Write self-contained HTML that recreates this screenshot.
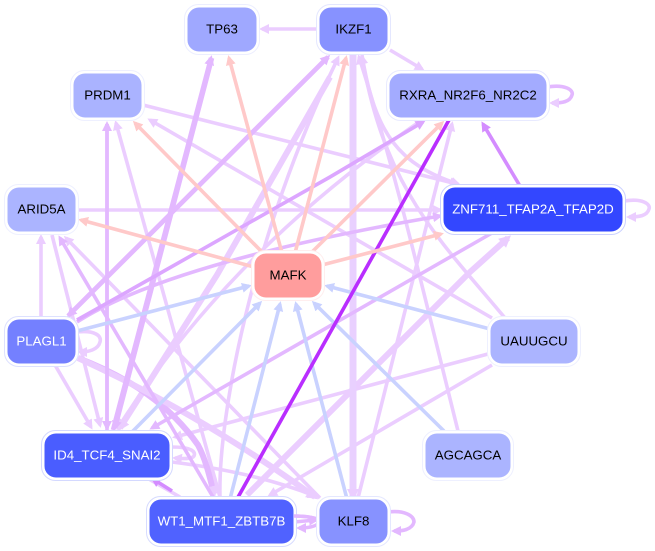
<!DOCTYPE html>
<html><head><meta charset="utf-8"><style>
html,body{margin:0;padding:0;background:#fff}
svg{display:block}
text{font-family:"Liberation Sans",sans-serif;font-size:13.3px;text-anchor:middle;dominant-baseline:central}
.o{fill:#fff;stroke-width:1}
.i{stroke:#fff;stroke-width:1}
</style></head><body>
<svg width="655" height="551" viewBox="0 0 655 551" xmlns="http://www.w3.org/2000/svg">
<defs>
<marker id="ml" markerUnits="userSpaceOnUse" markerWidth="14" markerHeight="12" refX="7" refY="5" orient="auto"><path d="M0 0L10 5L0 10z" fill="#ebcdff"/></marker>
<marker id="mm" markerUnits="userSpaceOnUse" markerWidth="14" markerHeight="12" refX="7" refY="5" orient="auto"><path d="M0 0L10 5L0 10z" fill="#e3b8ff"/></marker>
<marker id="md" markerUnits="userSpaceOnUse" markerWidth="14" markerHeight="12" refX="7" refY="5" orient="auto"><path d="M0 0L10 5L0 10z" fill="#dca6ff"/></marker>
<marker id="mv" markerUnits="userSpaceOnUse" markerWidth="14" markerHeight="12" refX="7" refY="5" orient="auto"><path d="M0 0L10 5L0 10z" fill="#d48cff"/></marker>
<marker id="mb" markerUnits="userSpaceOnUse" markerWidth="14" markerHeight="12" refX="7" refY="5" orient="auto"><path d="M0 0L10 5L0 10z" fill="#c9d2ff"/></marker>
<marker id="mp" markerUnits="userSpaceOnUse" markerWidth="14" markerHeight="12" refX="7" refY="5" orient="auto"><path d="M0 0L10 5L0 10z" fill="#ffc9c9"/></marker>
<marker id="mt" markerUnits="userSpaceOnUse" markerWidth="16" markerHeight="14" refX="8" refY="6" orient="auto"><path d="M0 0L12 6L0 12z" fill="#ebcdff"/></marker>
</defs>

<!-- light purple edges -->
<g fill="none" stroke="#ebcdff" stroke-width="3.6" marker-end="url(#ml)">
<path d="M319 29H262"/>
<path d="M390 50L422 69"/>
<path d="M143 105L457 184"/>
<path d="M77 210H440"/>
<path d="M492 318L150 120"/>
<path d="M41 319V237"/>
<path d="M55 365L91 427"/>
<path d="M220 497L116 123"/>
<path d="M358 498L452 124"/>
<path d="M458 431C418 270 395 170 359 57"/>
<path d="M505 318C440 240 385 190 362 57"/>
<path d="M362 55C375 135 400 165 458 184" />
<path d="M488 354L175 437"/>
<path d="M492 365L270 495"/>
<path d="M147 478L180 497" marker-end="none"/>
<path d="M220 497C218 420 250 240 338 58"/>
<path d="M425 118Q230 250 118 428"/>
<path d="M52 235L100 425"/>
<path d="M320 498L66 238"/>
<path d="M172 462C220 468 270 478 315 496"/>
<path d="M172 447C192 447 196 452 194 456C192 459 185 459 175 458"/>
<path d="M77 332C95 330 102 336 100 342C98 350 88 352 80 352"/>
<path d="M547 87C565 84 574 90 572 95C570 102 562 103 552 103" stroke="#e3b8ff"/>
<path d="M624 201C642 198 651 204 649 209C647 216 639 217 629 217"/>
</g>
<g fill="none" stroke="#ebcdff" stroke-width="6" marker-end="url(#mt)">
<path d="M330 77L217 275L120 428"/>
<path d="M247 495L470 272L508 238"/>
<path d="M78 358C130 378 170 405 198 445C206 460 210 478 214 494" stroke="#e3b8ff"/>
<path d="M78 358C170 400 250 450 315 497"/>
</g>
<path d="M353 54V497" stroke="#e9d0ff" stroke-width="7" fill="none" marker-end="url(#mt)"/>

<!-- medium purple edges -->
<g fill="none" stroke="#e3b8ff" stroke-width="3.6" marker-end="url(#mm)">
<path d="M107 433V124"/>
<path d="M107 124V428"/>
<path d="M492 233L152 428"/>
<path d="M213 497L60 238"/>
<path d="M294 516C306 516 318 518 320 521C318 526 310 528 299 528"/>
<path d="M294 522L316 520"/>
<path d="M388 512C405 510 414 516 414 522C412 530 402 531 394 531"/>
<path d="M77 322Q170 262 440 216"/>
</g>
<g fill="none" stroke="#e3b8ff" stroke-width="4.6" marker-end="url(#mm)">
<path d="M113 430L211 58"/>
<path d="M212 58L115 428"/>
<path d="M68 316L328 57"/>
<path d="M328 57L69 315"/>
</g>
<path d="M77 320L157 275L330 177L423 122" fill="none" stroke="#dca6ff" stroke-width="3.6" marker-end="url(#md)"/>
<path d="M172 491L153 479" fill="none" stroke="#d48cff" stroke-width="3.6" marker-end="url(#mv)"/>
<path d="M520 186L483 124" fill="none" stroke="#d48cff" stroke-width="3.6" marker-end="url(#mv)"/>

<!-- blue edges to MAFK -->
<g fill="none" stroke="#c9d2ff" stroke-width="3.6" marker-end="url(#mb)">
<path d="M77 331L249 286"/>
<path d="M131 433L260 303"/>
<path d="M230 499L280 304"/>
<path d="M347 499L296 304"/>
<path d="M444 431L314 303"/>
<path d="M490 329L327 286"/>
</g>

<!-- bright edge -->
<path d="M237 499L449 120" fill="none" stroke="#b92eff" stroke-width="3.6"/>

<!-- pink edges from MAFK -->
<g fill="none" stroke="#ffc9c9" stroke-width="3.6" marker-end="url(#mp)">
<path d="M282 253L229 58"/>
<path d="M262 252L135 123"/>
<path d="M254 267L81 220"/>
<path d="M295 253L346 58"/>
<path d="M311 253L442 123"/>
<path d="M322 265L441 234"/>
</g>

<!-- nodes -->
<g>
<rect class="o" x="184.500" y="4.500" width="75" height="50" rx="14" stroke="#eceeff"/><rect class="i" x="187" y="7" width="70" height="45" rx="12" fill="#9fa8ff"/>
<text x="222" y="29" fill="#000">TP63</text>

<rect class="o" x="316.500" y="4.500" width="74" height="50" rx="14" stroke="#e4e7ff"/><rect class="i" x="319" y="7" width="69" height="45" rx="12" fill="#8792ff"/>
<text x="353.500" y="29" fill="#000">IKZF1</text>

<rect class="o" x="70.500" y="70.500" width="74" height="50" rx="14" stroke="#eef0ff"/><rect class="i" x="73" y="73" width="69" height="45" rx="12" fill="#aab3ff"/>
<text x="107.500" y="95" fill="#000">PRDM1</text>

<rect class="o" x="386.500" y="70.500" width="163" height="50" rx="14" stroke="#e8eaff"/><rect class="i" x="389" y="73" width="158" height="45" rx="12" fill="#a3abff"/>
<text x="468" y="95" fill="#000">RXRA_NR2F6_NR2C2</text>

<rect class="o" x="4.500" y="184.500" width="74" height="50" rx="14" stroke="#eef0ff"/><rect class="i" x="7" y="187" width="69" height="45" rx="12" fill="#abb4ff"/>
<text x="41.500" y="209" fill="#000">ARID5A</text>

<rect class="o" x="440.500" y="184.500" width="185" height="50" rx="14" stroke="#ccd2ff"/><rect class="i" x="443" y="187" width="180" height="45" rx="12" fill="#3347ff"/>
<text x="533" y="209" fill="#fff">ZNF711_TFAP2A_TFAP2D</text>

<rect class="o" x="251.500" y="250.500" width="73" height="50" rx="14" stroke="#ffeeee"/><rect class="i" x="254" y="253" width="68" height="45" rx="12" fill="#ff9d9d"/>
<text x="288" y="275" fill="#000">MAFK</text>

<rect class="o" x="4.500" y="316.500" width="74" height="50" rx="14" stroke="#dde1ff"/><rect class="i" x="7" y="319" width="69" height="45" rx="12" fill="#7480ff"/>
<text x="41.500" y="341" fill="#fff">PLAGL1</text>

<rect class="o" x="487.500" y="316.500" width="93" height="50" rx="14" stroke="#eef0ff"/><rect class="i" x="490" y="319" width="88" height="45" rx="12" fill="#abb4ff"/>
<text x="534" y="341" fill="#000">UAUUGCU</text>

<rect class="o" x="41.500" y="430.500" width="131" height="50" rx="14" stroke="#d4d9ff"/><rect class="i" x="44" y="433" width="126" height="45" rx="12" fill="#4a5dff"/>
<text x="107" y="455" fill="#fff">ID4_TCF4_SNAI2</text>

<rect class="o" x="422.500" y="430.500" width="91" height="50" rx="14" stroke="#eef0ff"/><rect class="i" x="425" y="433" width="86" height="45" rx="12" fill="#abb4ff"/>
<text x="468" y="455" fill="#000">AGCAGCA</text>

<rect class="o" x="146.500" y="496.500" width="150" height="50" rx="14" stroke="#d6dbff"/><rect class="i" x="149" y="499" width="145" height="45" rx="12" fill="#5062ff"/>
<text x="221.500" y="521" fill="#fff">WT1_MTF1_ZBTB7B</text>

<path d="M294 516C306 516 318 518 320 521" fill="none" stroke="#e3b8ff" stroke-width="3.6"/>
<rect class="o" x="316.500" y="496.500" width="74" height="50" rx="14" stroke="#e4e7ff"/><rect class="i" x="319" y="499" width="69" height="45" rx="12" fill="#8792ff"/>
<text x="353.500" y="521" fill="#000">KLF8</text>
</g>
</svg>
</body></html>
